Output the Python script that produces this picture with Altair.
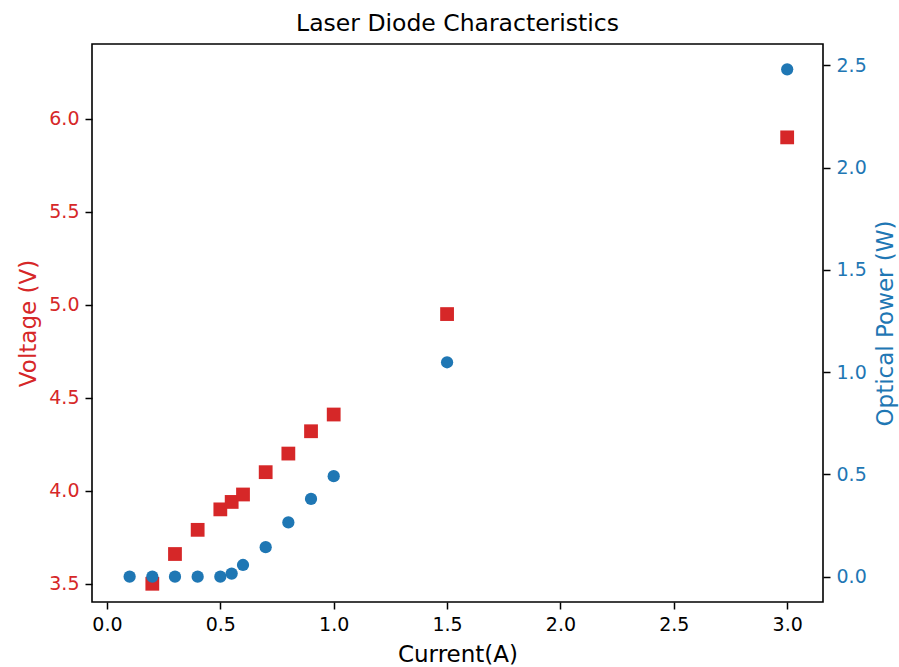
import altair as alt
import pandas as pd

# Data
v_current = [0.2, 0.3, 0.4, 0.5, 0.55, 0.6, 0.7, 0.8, 0.9, 1.0, 1.5, 3.0]
voltage = [3.50, 3.66, 3.79, 3.90, 3.94, 3.98, 4.10, 4.20, 4.32, 4.41, 4.95, 5.90]

p_current = [0.1, 0.2, 0.3, 0.4, 0.5, 0.55, 0.6, 0.7, 0.8, 0.9, 1.0, 1.5, 3.0]
power = [0.0, 0.0, 0.0, 0.0, 0.0, 0.015, 0.057, 0.144, 0.265, 0.38, 0.491, 1.048, 2.48]

x_ticks = [0.0, 0.5, 1.0, 1.5, 2.0, 2.5, 3.0]
v_ticks = [3.5, 4.0, 4.5, 5.0, 5.5, 6.0]
p_ticks = [0.0, 0.5, 1.0, 1.5, 2.0, 2.5]

RED = "#d62728"
BLUE = "#1f77b4"
FONT = "DejaVu Sans"

df_v = pd.DataFrame({"current": v_current, "voltage": voltage})
df_p = pd.DataFrame({"current": p_current, "power": power})

x_enc = alt.X(
    "current:Q",
    scale=alt.Scale(domain=[-0.066, 3.158], nice=False, zero=False),
    axis=alt.Axis(
        title="Current(A)", values=x_ticks, format=".1f",
        titleFontSize=23, titlePadding=9,
    ),
)

volt = alt.Chart(df_v).mark_point(
    shape="square", filled=True, size=190, color=RED, opacity=1
).encode(
    x=x_enc,
    y=alt.Y(
        "voltage:Q",
        scale=alt.Scale(domain=[3.402, 6.402], nice=False, zero=False),
        axis=alt.Axis(
            title="Voltage (V)", values=v_ticks, format=".1f", orient="left",
            labelColor=RED, titleColor=RED, titleFontSize=23, titlePadding=8,
        ),
    ),
)

pow_ = alt.Chart(df_p).mark_point(
    shape="circle", filled=True, size=150, color=BLUE, opacity=1
).encode(
    x=x_enc,
    y=alt.Y(
        "power:Q",
        scale=alt.Scale(domain=[-0.124, 2.604], nice=False, zero=False),
        axis=alt.Axis(
            title="Optical Power (W)", values=p_ticks, format=".1f", orient="right",
            labelColor=BLUE, titleColor=BLUE, titleFontSize=23, titlePadding=8,
            titleAngle=270, titleBaseline="top",
        ),
    ),
)

chart = alt.layer(volt, pow_).resolve_scale(y="independent").properties(
    width=731,
    height=558,
    title=alt.Title("Laser Diode Characteristics", fontSize=23.5, font=FONT,
                    fontWeight="normal", color="black", offset=9),
    autosize=alt.AutoSizeParams(type="none"),
    padding={"left": 92, "top": 44, "right": 76, "bottom": 65},
).configure_view(
    stroke="black", strokeWidth=1.6
).configure_axis(
    grid=False, domain=False, ticks=True, tickColor="black", tickWidth=1.5,
    tickSize=7, labelFont=FONT, titleFont=FONT, labelFontSize=19,
    titleFontWeight="normal", labelPadding=6, titleColor="black", labelColor="black",
)

chart.save("out.html", embed_options={"renderer": "svg", "actions": False})
